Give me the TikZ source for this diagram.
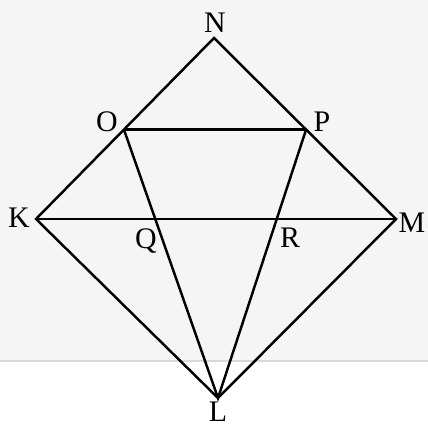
\documentclass[tikz,border=0pt]{standalone}
\usepackage{fontspec}
\setmainfont{Liberation Serif}
\usetikzlibrary{calc}
\tikzset{
  edge/.style={draw, line width=1.4pt, line join=miter},
  lbl/.style={font=\fontsize{17}{17}\selectfont, inner sep=0pt},
}

\begin{document}
\begin{tikzpicture}[x=0.02cm, y=-0.02cm]
\useasboundingbox (0,0) rectangle (428,428);
\fill[black!4] (0,0) rectangle (428,361);
\draw[black!15, line width=0.8pt] (0,361) -- (428,361);

% vertices
\coordinate (N) at (214,38);
\coordinate (K) at (36,219);
\coordinate (M) at (396,219);
\coordinate (L) at (218,398);
\coordinate (O) at ($(K)!0.494!(N)$);
\coordinate (P) at ($(M)!0.494!(N)$);
\coordinate (Q) at (intersection of O--L and K--M);
\coordinate (R) at (intersection of P--L and K--M);

\draw[edge] (K) -- (N) -- (M) -- (L) -- cycle;
\draw[edge] (O) -- (P);
\draw[edge] (K) -- (M);
\draw[edge] (O) -- (L) -- (P);

% labels
\node[lbl] (lN) at (215,23) {N};
\node[lbl] (lO) at (107,122) {O};
\node[lbl] (lP) at (322,122) {P};
\node[lbl] (lK) at (19,218) {K};
\node[lbl] (lM) at (412,223) {M};
\node[lbl] (lQ) at (146,241) {Q};
\node[lbl] (lR) at (290,238) {R};
\node[lbl] (lL) at (218,412) {L};
\end{tikzpicture}
\end{document}
